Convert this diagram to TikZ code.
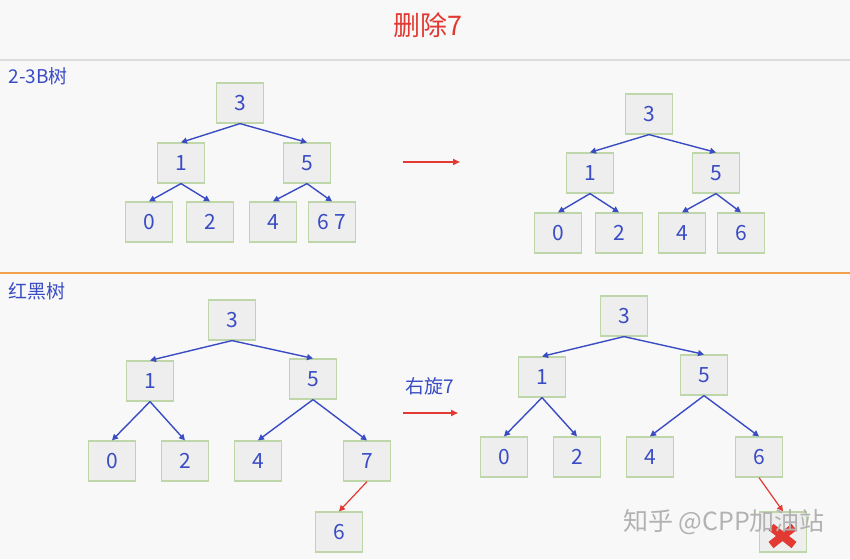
\documentclass[tikz,border=0pt]{standalone}
\usepackage{fontspec}
\setmainfont{Noto Sans CJK SC}
\usetikzlibrary{arrows.meta}
\definecolor{bgcol}{HTML}{F8F8F8}
\definecolor{boxfill}{HTML}{EEEEEE}
\definecolor{boxline}{HTML}{BFD6AA}
\definecolor{treeblue}{HTML}{3A4CC4}
\definecolor{markred}{HTML}{E23A32}
\definecolor{rulegray}{HTML}{DCDCDC}
\definecolor{ruleorange}{HTML}{F2A04E}
\tikzset{
  key/.style={draw=boxline,fill=boxfill,line width=1.2pt,minimum width=47pt,
    minimum height=40pt,inner sep=0pt,text=treeblue,font=\fontsize{21}{24}\selectfont},
  link/.style={draw=treeblue,line width=1.4pt,-{Triangle[length=6pt,width=6pt]}},
  redlink/.style={draw=markred,line width=1.2pt,-{Triangle[length=6pt,width=6pt]}},
  step arrow/.style={draw=markred,line width=2pt,-{Triangle[length=7pt,width=6pt]}},
  heading/.style={text=treeblue,font=\fontsize{19}{22}\selectfont,anchor=west}
}
\begin{document}
\begin{tikzpicture}[x=1pt,y=-1pt]
      \fill[bgcol] (0,0) rectangle (850,559);
      \useasboundingbox (0,0) rectangle (850,559);
      \node[text=markred,font=\fontsize{27}{30}\selectfont] (title) at (428,25) {删除7};
      \draw[rulegray,line width=1.5pt] (0,60) -- (850,60);
      \draw[ruleorange,line width=2pt] (0,273) -- (850,273);
      \node[heading] (btree) at (5,76) {2-3B树};
      \node[heading] (rbtree) at (5,291) {红黑树};
      % 2-3 tree before
      \node[key] (a3) at (240,103) {3};
      \node[key] (a1) at (181,163) {1};
      \node[key] (a5) at (307,163) {5};
      \node[key] (a0) at (149,222) {0};
      \node[key] (a2) at (210,222) {2};
      \node[key] (a4) at (273,222) {4};
      \node[key] (a67) at (332,222) {6 7};
      % 2-3 tree after
      \node[key] (b3) at (649,114) {3};
      \node[key] (b1) at (590,173) {1};
      \node[key] (b5) at (716,173) {5};
      \node[key] (b0) at (558,233) {0};
      \node[key] (b2) at (619,233) {2};
      \node[key] (b4) at (682,233) {4};
      \node[key] (b6) at (741,233) {6};
      % red-black tree before
      \node[key] (c3) at (232,320) {3};
      \node[key] (c1) at (150,381) {1};
      \node[key] (c5) at (313,379) {5};
      \node[key] (c0) at (112,461) {0};
      \node[key] (c2) at (185,461) {2};
      \node[key] (c4) at (258,461) {4};
      \node[key] (c7) at (367,461) {7};
      \node[key] (c6) at (339,532) {6};
      % red-black tree after
      \node[key] (d3) at (624,316) {3};
      \node[key] (d1) at (542,377) {1};
      \node[key] (d5) at (704,375) {5};
      \node[key] (d0) at (504,457) {0};
      \node[key] (d2) at (577,457) {2};
      \node[key] (d4) at (650,457) {4};
      \node[key] (d6) at (759,457) {6};
      \node[key] (d7) at (783,532) {};
      \node[text=treeblue,font=\fontsize{19}{22}\selectfont] (rot) at (430,386) {右旋7};
      \coordinate (ta) at (403,162);
      \coordinate (tb) at (460,162);
      \coordinate (ba) at (403,413);
      \coordinate (bb) at (458,413);
      \begin{scope}[link]
        \draw (a3.south) to (a1.north);
        \draw (a3.south) to (a5.north);
        \draw (a1.south) to (a0.north);
        \draw (a1.south) to (a2.north);
        \draw (a5.south) to (a4.north);
        \draw (a5.south) to (a67.north);
        \draw (b3.south) to (b1.north);
        \draw (b3.south) to (b5.north);
        \draw (b1.south) to (b0.north);
        \draw (b1.south) to (b2.north);
        \draw (b5.south) to (b4.north);
        \draw (b5.south) to (b6.north);
        \draw (c3.south) to (c1.north);
        \draw (c3.south) to (c5.north);
        \draw (c1.south) to (c0.north);
        \draw (c1.south) to (c2.north);
        \draw (c5.south) to (c4.north);
        \draw (c5.south) to (c7.north);
        \draw (d3.south) to (d1.north);
        \draw (d3.south) to (d5.north);
        \draw (d1.south) to (d0.north);
        \draw (d1.south) to (d2.north);
        \draw (d5.south) to (d4.north);
        \draw (d5.south) to (d6.north);
      \end{scope}
      \draw[redlink] (c7.south) to (c6.north);
      \draw[redlink] (d6.south) to (d7.north);
      \draw[step arrow] (ta) -- (tb);
      \draw[step arrow] (ba) -- (bb);
      % cross on the removed node
      \draw[markred,line width=8pt] (771,527) -- (794,545) (771,545) -- (794,527);
      \node[text=black!30,font=\fontsize{25}{28}\selectfont] (mark) at (724,522) {知乎 @CPP加油站};
    \end{tikzpicture}
\end{document}
